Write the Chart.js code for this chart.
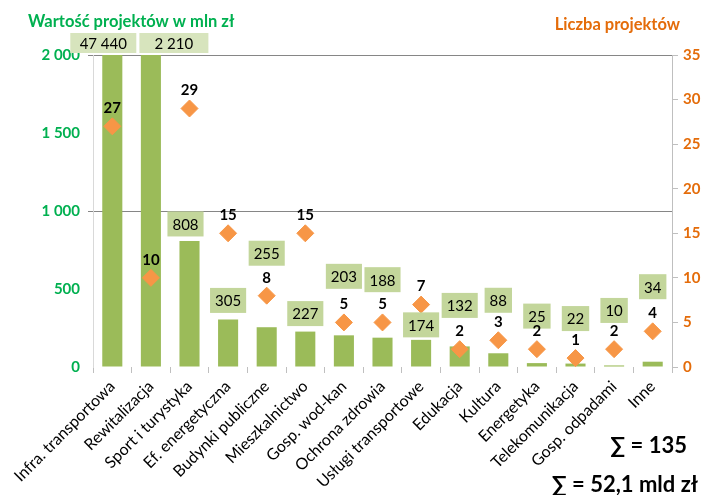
<!DOCTYPE html>
<html>
<head>
<meta charset="utf-8">
<script src="https://cdn.jsdelivr.net/npm/chart.js@4.4.1/dist/chart.umd.min.js"></script>
<style>
  body { margin: 0; background: #fff; }
  #wrap { width: 703px; height: 495px; }
</style>
</head>
<body>
<div id="wrap"><canvas id="chart" width="703" height="495"></canvas></div>
<script>
const categories = ['Infra. transportowa', 'Rewitalizacja', 'Sport i turystyka', 'Ef. energetyczna',
    'Budynki publiczne', 'Mieszkalnictwo', 'Gosp. wod-kan', 'Ochrona zdrowia', 'Usługi transportowe',
    'Edukacja', 'Kultura', 'Energetyka', 'Telekomunikacja', 'Gosp. odpadami', 'Inne'];
const values = [47440, 2210, 808, 305, 255, 227, 203, 188, 174, 132, 88, 25, 22, 10, 34];
const counts = [27, 10, 29, 15, 8, 15, 5, 5, 7, 2, 3, 2, 1, 2, 4];
const totalCount = '∑ = 135';
const totalValue = '∑ = 52,1 mld zł';

const FONT = 'Lato, "Open Sans", sans-serif';
const GREEN = '#00b050';
const ORANGE = '#e46c0a';

function fmt(v){
    return String(v).replace(/\B(?=(\d{3})+(?!\d))/g, ' ');
}

// where each value box sits: lift = px of box centre above bar top, dx = side shift
const boxLayout = [
    {lift: 12, dx: -9, w: 66, fill: '#d7e4bd'},
    {lift: 12, dx: 23, w: 69, fill: '#d7e4bd'},
    {lift: 17, dx: -4}, {lift: 19}, {lift: 74}, {lift: 18}, {lift: 59}, {lift: 58},
    {lift: 15}, {lift: 41}, {lift: 53}, {lift: 47}, {lift: 45}, {lift: 55}, {lift: 75}
];

const labelsPlugin = {
    id: 'labelsPlugin',
    afterDatasetsDraw(chart){
        const ctx = chart.ctx;
        const area = chart.chartArea;
        const bars = chart.getDatasetMeta(1).data;
        const pts = chart.getDatasetMeta(0).data;
        ctx.save();
        ctx.font = '15px ' + FONT;
        ctx.textAlign = 'center';
        ctx.textBaseline = 'middle';
        bars.forEach((bar, i) => {
            const lay = boxLayout[i];
            const txt = fmt(values[i]);
            const top = Math.max(bar.y, area.top);
            const cx = bar.x + (lay.dx || 0);
            const cy = top - lay.lift;
            const w = lay.w || ctx.measureText(txt).width + 10;
            const h = lay.w ? 20 : 25;
            ctx.fillStyle = lay.fill || '#c3d69b';
            ctx.fillRect(cx - w / 2, cy - h / 2, w, h);
            ctx.fillStyle = '#000';
            ctx.fillText(txt, cx, cy + 1);
        });
        ctx.font = 'bold 15px ' + FONT;
        pts.forEach((p, i) => {
            ctx.fillStyle = '#000';
            ctx.fillText(counts[i], p.x, p.y - 18);
        });
        ctx.restore();
    },
    afterDraw(chart){
        const ctx = chart.ctx;
        ctx.save();
        ctx.textBaseline = 'middle';
        ctx.font = 'bold 16.5px ' + FONT;
        ctx.fillStyle = GREEN;
        ctx.textAlign = 'left';
        ctx.fillText('Wartość projektów w mln zł', 28, 22);
        ctx.fillStyle = ORANGE;
        ctx.textAlign = 'right';
        ctx.fillText('Liczba projektów', 680, 25);
        ctx.fillStyle = '#000';
        ctx.font = 'bold 22px ' + FONT;
        ctx.fillText(totalCount, 687, 446);
        ctx.fillText(totalValue, 698, 485);
        ctx.restore();
    }
};

new Chart(document.getElementById('chart').getContext('2d'), {
    type: 'bar',
    data: {
        labels: categories,
        datasets: [
            {
                type: 'line',
                label: 'Liczba projektów',
                data: counts,
                yAxisID: 'y1',
                showLine: false,
                pointStyle: 'rectRot',
                pointRadius: 8.5,
                pointBackgroundColor: '#f79646',
                pointBorderColor: '#f79646',
                order: 0
            },
            {
                label: 'Wartość projektów w mln zł',
                data: values,
                yAxisID: 'y',
                backgroundColor: '#9bbb59',
                barPercentage: 0.52,
                categoryPercentage: 1,
                order: 1
            }
        ]
    },
    options: {
        responsive: false,
        animation: false,
        devicePixelRatio: 1,
        layout: {padding: {top: 55, left: 0, right: 0, bottom: 0}},
        plugins: {legend: {display: false}, tooltip: {enabled: false}},
        scales: {
            x: {
                offset: true,
                grid: {offset: true, drawOnChartArea: false, tickLength: 6, color: '#bfbfbf'},
                border: {display: false},
                ticks: {minRotation: 45, maxRotation: 45, padding: 4, color: '#000', font: {family: FONT, size: 16}},
                afterFit(s){ s.height = 128; }
            },
            y: {
                position: 'left',
                min: 0,
                max: 2000,
                ticks: {stepSize: 500, padding: 8, color: GREEN, font: {family: FONT, size: 15, weight: 'bold'},
                    callback: v => fmt(v)},
                grid: {
                    tickLength: 5,
                    color: c => (c.tick && c.tick.value > 0 && c.tick.value % 1000 === 0) ? '#868686' : 'rgba(0,0,0,0)'
                },
                border: {color: '#d9d9d9'},
                afterFit(s){ s.width = 93; }
            },
            y1: {
                position: 'right',
                min: 0,
                max: 35,
                ticks: {stepSize: 5, padding: 5, color: ORANGE, font: {family: FONT, size: 15, weight: 'bold'}},
                grid: {drawOnChartArea: false, tickLength: 6, color: '#bfbfbf'},
                border: {color: '#bfbfbf'},
                afterFit(s){ s.width = 31; }
            }
        }
    },
    plugins: [labelsPlugin]
});
</script>
</body>
</html>
